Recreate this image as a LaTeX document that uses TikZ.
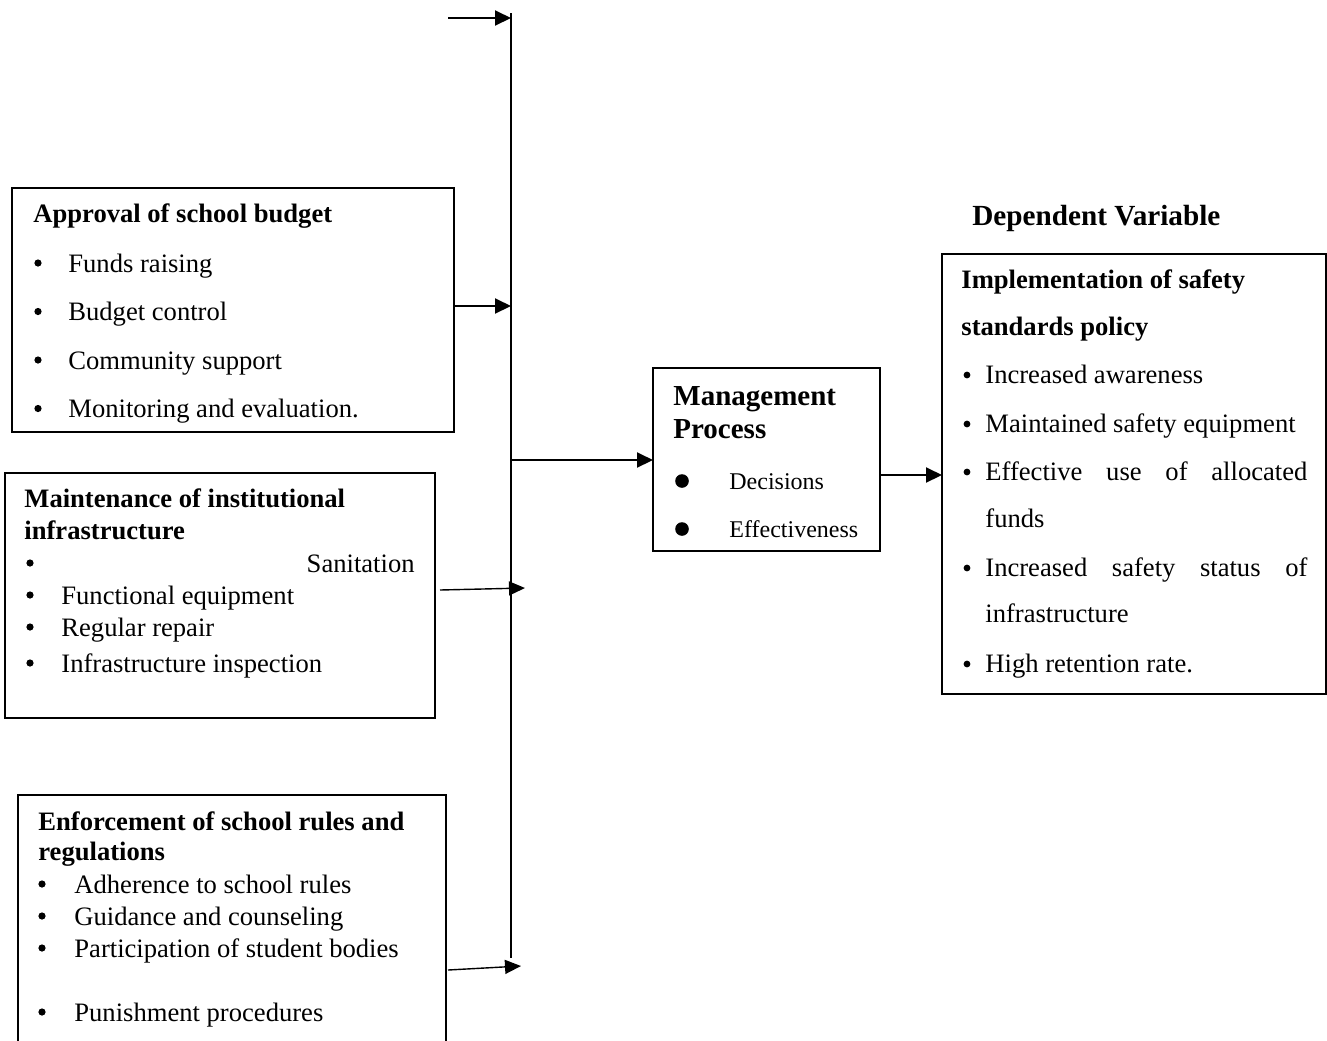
\documentclass[tikz,border=0pt]{standalone}
\usepackage{fontspec}
\setmainfont{Liberation Serif}
\usetikzlibrary{arrows.meta}
\begin{document}
\begin{tikzpicture}[x=0.5pt,y=-0.5pt,
  box/.style={draw, line width=0.6pt, inner sep=0pt, outer sep=0pt, anchor=north west},
  txt/.style={anchor=base west, inner sep=0pt, font=\fontsize{13.3}{16}\selectfont},
  ttl/.style={anchor=base west, inner sep=0pt, font=\fontsize{13.3}{16}\selectfont\bfseries},
  arr/.style={line width=1pt, -{Triangle[length=8pt,width=7.5pt]}},
  thinarr/.style={line width=0.7pt, -{Triangle[length=8pt,width=7pt]}},
  smallbul/.style={fill=black},
]
\useasboundingbox (0,0) rectangle (1327,1040);
\clip (0,0) rectangle (1327,1040);

% boxes
\node[box, minimum width=221pt, minimum height=122pt] (b1) at (12,188) {};
\node[box, minimum width=215pt, minimum height=122.5pt] (b2) at (5,473) {};
\node[box, minimum width=214pt, minimum height=130pt] (b3) at (18,795) {};
\node[box, minimum width=113.5pt, minimum height=91.5pt] (mg) at (653,368) {};
\node[box, minimum width=192pt, minimum height=220pt] (rb) at (942,254) {};

% box 1
\node[ttl] (b1t) at (33,222) {Approval of school budget};
\node[txt] (b1a) at (68,272) {Funds raising};
\node[txt] (b1b) at (68,320.5) {Budget control};
\node[txt] (b1c) at (68,369) {Community support};
\node[txt] (b1d) at (68,417.5) {Monitoring and evaluation.};
\foreach \y in {272,320.5,369,417.5} \fill[smallbul] (38,\y-9) circle[radius=1.8pt];

% box 2
\node[ttl] (b2t1) at (24,507) {Maintenance of institutional};
\node[ttl] (b2t2) at (24,539) {infrastructure};
\node[txt, anchor=base east] (b2a) at (415,572) {Sanitation};
\node[txt] (b2b) at (61,604) {Functional equipment};
\node[txt] (b2c) at (61,636) {Regular repair};
\node[txt] (b2d) at (61,672) {Infrastructure inspection};
\foreach \y in {572,604,636,672} \fill[smallbul] (30,\y-9) circle[radius=1.8pt];

% box 3
\node[ttl] (b3t1) at (38,830) {Enforcement of school rules and};
\node[ttl] (b3t2) at (38,860) {regulations};
\node[txt] (b3a) at (74,893) {Adherence to school rules};
\node[txt] (b3b) at (74,925) {Guidance and counseling};
\node[txt] (b3c) at (74,957) {Participation of student bodies};
\node[txt] (b3d) at (74,1021) {Punishment procedures};
\foreach \y in {893,925,957,1021} \fill[smallbul] (42,\y-9) circle[radius=1.8pt];

% management box
\node[anchor=base west, inner sep=0pt, font=\fontsize{14.5}{17}\selectfont\bfseries] (mgt1) at (673,405) {Management};
\node[anchor=base west, inner sep=0pt, font=\fontsize{14.5}{17}\selectfont\bfseries] (mgt2) at (673,438) {Process};
\node[anchor=base west, inner sep=0pt, font=\fontsize{12}{14}\selectfont] (mga) at (729,489) {Decisions};
\node[anchor=base west, inner sep=0pt, font=\fontsize{12}{14}\selectfont] (mgb) at (729,537) {Effectiveness};
\fill (682,481) circle[radius=3.4pt];
\fill (682,529) circle[radius=3.4pt];

% dependent variable
\node[anchor=base west, inner sep=0pt, font=\fontsize{14.6}{17}\selectfont\bfseries] (dv) at (972,225) {Dependent Variable};
\node[ttl] (rbt1) at (961,288) {Implementation of safety};
\node[ttl] (rbt2) at (961,335) {standards policy};
\node[txt] (rba) at (985,383) {Increased awareness};
\node[txt] (rbb) at (985,432) {Maintained safety equipment};
\node[txt] (rbc) at (985,480) {\makebox[161pt][s]{Effective use of allocated}};
\node[txt] (rbc2) at (985,527) {funds};
\node[txt] (rbd) at (985,576) {\makebox[161pt][s]{Increased safety status of}};
\node[txt] (rbd2) at (985,622) {infrastructure};
\node[txt] (rbe) at (985,672) {High retention rate.};
\foreach \y in {383,432,480,576,672} \fill[smallbul] (967,\y-8) circle[radius=1.7pt];

% vertical collector line
\coordinate (vtop) at (511,13);
\coordinate (vbot) at (511,958);
\draw[line width=1.4pt] (vtop) -- (vbot);

% connector points
\coordinate (s0) at (448,18);
\coordinate (v0) at (511,18);
\coordinate (v1) at (511,306);
\coordinate (vm) at (511,460);
\coordinate (s2) at (440,590);
\coordinate (v2) at (525,588);
\coordinate (s3) at (448,970);
\coordinate (v3) at (521,966);
\coordinate (lvl) at (0,475);

% connectors
\draw[arr] (s0) -- (v0);
\draw[arr] (b1.east |- v1) -- (v1);
\draw[thinarr] (s2) -- (v2);
\draw[thinarr] (s3) -- (v3);
\draw[arr] (vm) -- (mg.west |- vm);
\draw[arr] (mg.east |- lvl) -- (rb.west |- lvl);
\end{tikzpicture}
\end{document}
